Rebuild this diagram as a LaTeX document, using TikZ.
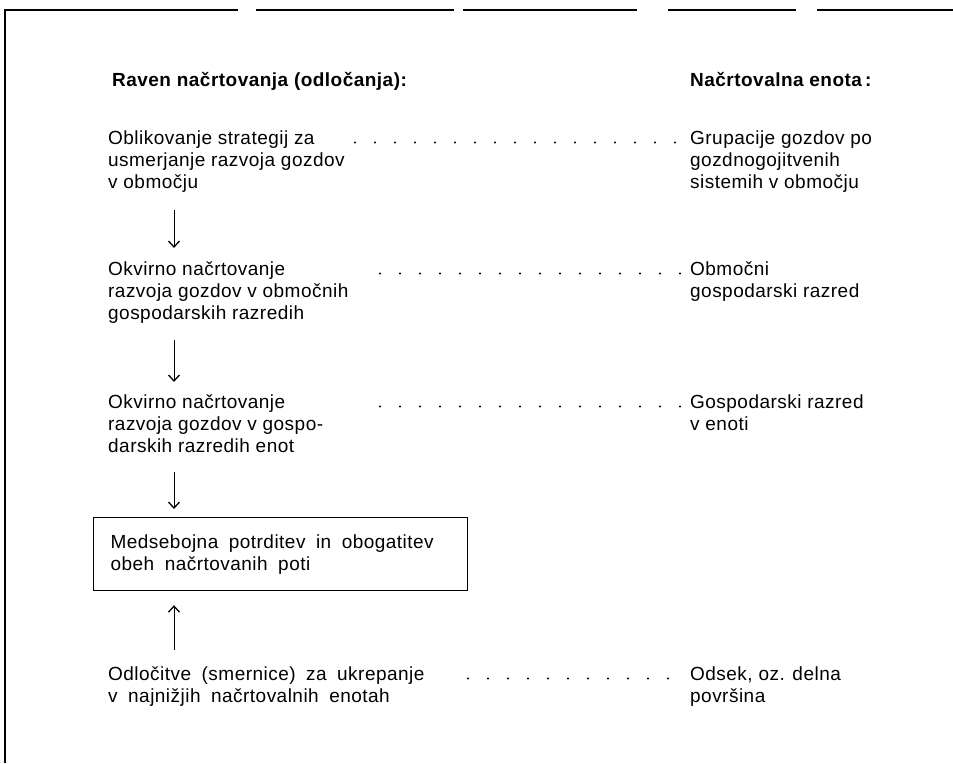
\documentclass[tikz,border=0pt]{standalone}
\usepackage{fontspec}
\setmainfont[LetterSpace=2.5]{Liberation Sans}
\usetikzlibrary{arrows.meta}

\begin{document}
\begin{tikzpicture}[x=1pt, y=-1pt,
    every node/.style={font=\fontsize{19}{22}\selectfont, inner sep=0pt, align=left},
    widespace/.style={execute at begin node={\spaceskip=10.5pt plus 1pt\relax}},
    flow/.style={-{Straight Barb[length=6pt,width=11pt,line width=1.3pt]}, line width=1pt},
    leader/.style={line width=2.2pt, line cap=round, dash pattern=on 0pt off 20pt}]
    \useasboundingbox (0,0) rectangle (953,763);

    % frame, top edge broken as in the print
    \draw[line width=1.5pt] (5,763) -- (5,10) -- (238,10);
    \draw[line width=1.5pt] (256,10) -- (454,10);
    \draw[line width=1.5pt] (463,10) -- (637,10);
    \draw[line width=1.5pt] (668,10) -- (796,10);
    \draw[line width=1.5pt] (817,10) -- (953,10);

    % column heads
    \node[anchor=base west, font=\fontsize{19}{22}\selectfont\bfseries] (hl) at (112,86) {Raven načrtovanja (odločanja):};
    \node[anchor=base west, font=\fontsize{19}{22}\selectfont\bfseries] (hr) at (690,86) {Načrtovalna enota\,:};

    % levels (left) and units (right), placed by the baseline of the last line
    \node[anchor=base west] (e1) at (108,188) {Oblikovanje strategij za\\usmerjanje razvoja gozdov\\v območju};
    \node[anchor=base west] (r1) at (690,188) {Grupacije gozdov po\\gozdnogojitvenih\\sistemih v območju};
    \node[anchor=base west] (e2) at (108,319) {Okvirno načrtovanje\\razvoja gozdov v območnih\\gospodarskih razredih};
    \node[anchor=base west] (r2) at (690,297) {Območni\\gospodarski razred};
    \node[anchor=base west] (e3) at (108,452) {Okvirno načrtovanje\\razvoja gozdov v gospo-\\darskih razredih enot};
    \node[anchor=base west] (r3) at (690,430) {Gospodarski razred\\v enoti};
    \node[draw, line width=1.2pt, anchor=north west, inner xsep=17pt, widespace,
          text width=340pt, minimum height=73pt] (both) at (93,517)
          {Medsebojna potrditev in obogatitev\\obeh načrtovanih poti};
    \node[anchor=base west, widespace] (e4) at (108,702) {Odločitve (smernice) za ukrepanje\\v najnižjih načrtovalnih enotah};
    \node[anchor=base west] (r4) at (690,702) {Odsek, oz. delna\\površina};

    % dotted leaders
    \coordinate (d1) at (355,142.5);
    \coordinate (d2) at (380,273.5);
    \coordinate (d3) at (380,406.5);
    \coordinate (d4) at (468,678.5);
    \draw[leader, shorten >=9pt] (d1) -- (d1 -| r1.west);
    \draw[leader, shorten >=9pt] (d2) -- (d2 -| r2.west);
    \draw[leader, shorten >=9pt] (d3) -- (d3 -| r3.west);
    \draw[leader, shorten >=9pt] (d4) -- (d4 -| r4.west);

    % arrows
    \coordinate (ax) at (174,0);
    \draw[flow, shorten <=18pt, shorten >=13pt] (e1.south -| ax) -- (e2.north -| ax);
    \draw[flow, shorten <=17pt, shorten >=12pt] (e2.south -| ax) -- (e3.north -| ax);
    \draw[flow, shorten <=20pt, shorten >=8pt] (e3.south -| ax) -- (both.north -| ax);
    \draw[flow, shorten <=16pt, shorten >=14pt] (e4.north -| ax) -- (both.south -| ax);
\end{tikzpicture}
\end{document}
